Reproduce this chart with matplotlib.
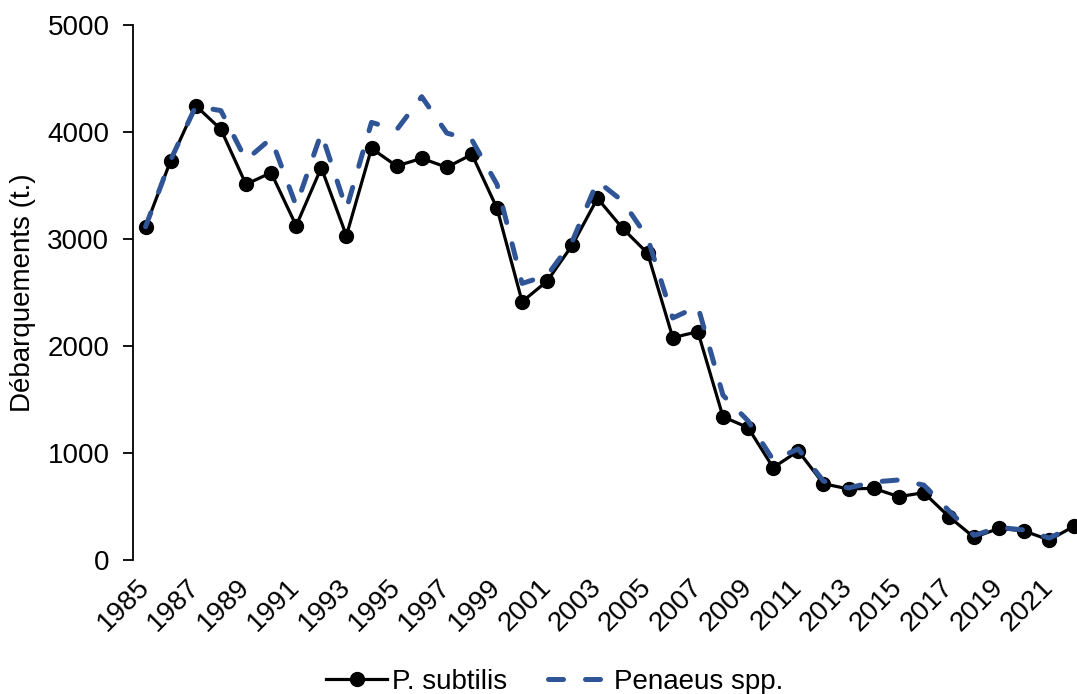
import matplotlib.pyplot as plt
import numpy as np

plt.rcParams['font.family'] = ['Liberation Sans', 'DejaVu Sans']

# Landings data (t.)
years = np.arange(1985, 2023)
p_subtilis = [3115, 3732, 4246, 4025, 3511, 3620, 3124, 3666, 3031, 3847,
              3682, 3754, 3670, 3791, 3287, 2414, 2607, 2944, 3380, 3100,
              2866, 2078, 2134, 1339, 1237, 863, 1019, 713, 664, 670,
              592, 629, 405, 212, 296, 271, 187, 318]
penaeus_spp = [3115, 3740, 4240, 4200, 3738, 3940, 3310, 3990, 3280, 4090,
               4020, 4330, 3990, 3925, 3510, 2585, 2660, 2980, 3540, 3355,
               3010, 2262, 2370, 1540, 1300, 935, 1037, 738, 673, 729,
               748, 700, 460, 230, 305, 280, 205, 318]
tick_years = np.arange(1985, 2022, 2)
y_ticks = [0, 1000, 2000, 3000, 4000, 5000]

fig = plt.figure(figsize=(10.77, 6.94), dpi=100)
ax = fig.add_axes([133 / 1077, 134 / 694, 954 / 1077, 535 / 694])

ax.plot(years, p_subtilis, color='black', lw=2.3, marker='o', markersize=10,
        label='P. subtilis', zorder=2)
ax.plot(years, penaeus_spp, color='#2F5597', lw=3.6, linestyle=(0, (3.0, 4.4)),
        dash_capstyle='round', label='Penaeus spp.', zorder=3)

ax.set_xlim(1984.5, 2022.5)
ax.set_ylim(0, 5000)
ax.set_yticks(y_ticks)
ax.set_xticks(tick_years)
ax.set_xticklabels([str(y) for y in tick_years], rotation=45, ha='right',
                   va='center', rotation_mode='anchor')

for s in ['top', 'right', 'bottom']:
    ax.spines[s].set_visible(False)
ax.spines['left'].set_linewidth(1.3)
ax.tick_params(axis='y', direction='out', length=7, width=1.3, pad=10, labelsize=20)
ax.tick_params(axis='x', length=0, pad=17, labelsize=20)

ax.set_ylabel('Débarquements (t.)', fontsize=20, labelpad=8)

fig.legend(loc='center', bbox_to_anchor=(0.515, 0.018), ncol=2, frameon=False,
           fontsize=20, handlelength=2.2, handletextpad=0.15, columnspacing=1.5)

fig.savefig('out.png', dpi=100)
